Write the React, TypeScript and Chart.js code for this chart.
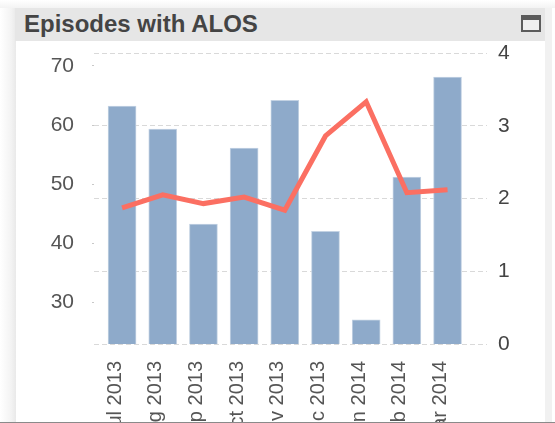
import React, { useEffect, useRef } from "react";
import { Chart, registerables } from "chart.js";

Chart.register(...registerables);

const months = ["Jul 2013", "Aug 2013", "Sep 2013", "Oct 2013", "Nov 2013", "Dec 2013", "Jan 2014", "Feb 2014", "Mar 2014"];
const positions = [0, 1, 2, 3, 4, 5, 6, 7, 8];
const episodes = [63.2, 59.3, 43.2, 56.1, 64.2, 42, 27, 51.2, 68.1];
const alos = [1.87, 2.05, 1.93, 2.02, 1.84, 2.86, 3.33, 2.08, 2.12];
const leftTicks = [30, 40, 50, 60, 70];
const rightTicks = [0, 1, 2, 3, 4];
const title = "Episodes with ALOS";

export default function App() {
  const ref = useRef<HTMLCanvasElement>(null);
  useEffect(() => {
    const chart = new Chart(ref.current!, {
      data: {
        datasets: [
          {
            type: "line",
            data: positions.map((x, i) => ({ x, y: alos[i] })),
            yAxisID: "y1",
            borderColor: "#fb6f62",
            borderWidth: 5,
            pointRadius: 0,
            tension: 0,
            order: 0,
          },
          {
            type: "bar",
            data: positions.map((x, i) => ({ x, y: episodes[i] })),
            yAxisID: "y",
            backgroundColor: "#8eaaca",
            borderColor: "#c3d2e3",
            borderWidth: 1,
            barThickness: 28,
            order: 1,
          },
        ],
      } as any,
      options: {
        responsive: false,
        animation: false,
        layout: { padding: { top: 53 } },
        plugins: { legend: { display: false }, tooltip: { enabled: false } },
        scales: {
          x: {
            type: "linear",
            offset: false,
            min: -0.69,
            max: 8.97,
            afterBuildTicks: (s: any) => {
              s.ticks = positions.map((value) => ({ value }));
            },
            afterFit: (s: any) => {
              s.height = 79;
            },
            grid: { display: false },
            border: { display: false },
            ticks: {
              autoSkip: false,
              minRotation: 90,
              maxRotation: 90,
              padding: 9,
              labelOffset: -7,
              font: { family: "Liberation Sans", size: 20 },
              color: "#555",
              callback: (v: any) => months[v],
            },
          },
          y: {
            position: "left",
            min: 22.9,
            max: 72.2,
            afterBuildTicks: (s: any) => {
              s.ticks = leftTicks.map((value) => ({ value }));
            },
            afterFit: (s: any) => {
              s.width = 94;
            },
            grid: { drawOnChartArea: false, tickLength: 2, color: "#c8c8c8" },
            border: { display: false },
            ticks: {
              padding: 18,
              font: { family: "Liberation Sans", size: 21 },
              color: "#555",
            },
          },
          y1: {
            position: "right",
            min: 0,
            max: 4,
            afterBuildTicks: (s: any) => {
              s.ticks = rightTicks.map((value) => ({ value }));
            },
            afterFit: (s: any) => {
              s.width = 68;
            },
            grid: {
              drawOnChartArea: true,
              drawTicks: false,
              color: "#d9d9d9",
              lineWidth: 1,
            },
            border: { display: false, dash: [5, 3] },
            ticks: {
              padding: 11,
              font: { family: "Liberation Sans", size: 21 },
              color: "#444",
            },
          },
        },
      },
    } as any);
    return () => chart.destroy();
  }, []);
  return (
    <div style={{ position: "fixed", inset: 0, background: "#fff", overflow: "hidden" }}>
      <div style={{ position: "absolute", left: 0, top: 0, width: 16, height: 423, background: "linear-gradient(to right, #ffffff, #f3f3f3 70%, #e9e9e9)" }} />
      <div style={{ position: "absolute", left: 0, top: 0, width: 555, height: 8, background: "linear-gradient(to bottom, #ffffff, #f3f3f3)" }} />
      <div style={{ position: "absolute", left: 545, top: 8, width: 7, height: 415, background: "#f1f1f1" }} />
      <div style={{ position: "absolute", left: 15, top: 8, width: 530, height: 33, background: "#e6e6e6" }}>
        <span style={{ position: "absolute", left: 9, top: 2, font: "bold 24px 'Liberation Sans'", color: "#444", whiteSpace: "nowrap" }}>{title}</span>
        <div style={{ position: "absolute", left: 506, top: 7, width: 20, height: 17, boxSizing: "border-box", border: "2px solid #5c5c5c", borderTopWidth: 5, background: "#efefef" }} />
      </div>
      <div style={{ position: "absolute", left: 16, top: 41, width: 529, height: 382, background: "#fff" }} />
      <canvas ref={ref} width={555} height={423} style={{ position: "absolute", left: 0, top: 0, display: "block" }} />
      <div style={{ position: "absolute", left: 0, top: 422, width: 555, height: 1, background: "#8a8a8a" }} />
    </div>
  );
}
